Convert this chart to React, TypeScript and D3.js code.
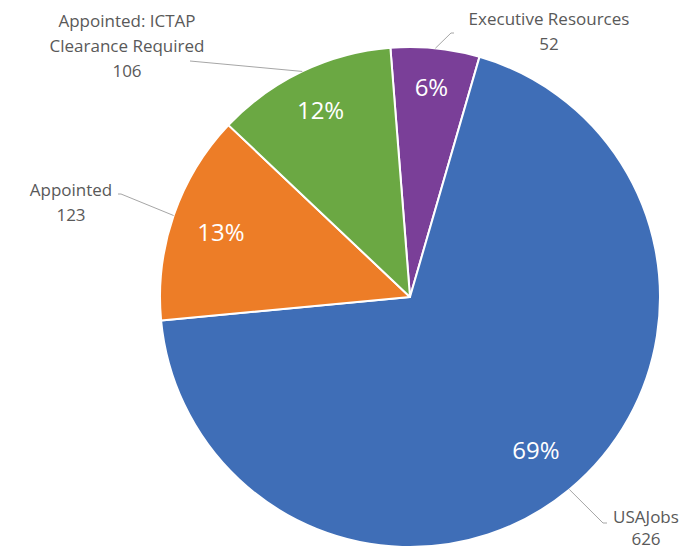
import React from "react";
import * as d3 from "d3";

const categories = ["Executive Resources", "USAJobs", "Appointed", "Appointed: ICTAP Clearance Required"];
const values = [52, 626, 123, 106];
const percentLabels = ["6%", "69%", "13%", "12%"];
const colors = ["#7A3F98", "#3F6EB7", "#ED7D27", "#6BA843"];
const labelLines = [["Executive Resources", "52"], ["USAJobs", "626"], ["Appointed", "123"], ["Appointed: ICTAP", "Clearance Required", "106"]];

const W = 683, H = 550;
const cx = 410, cy = 297, R = 250;
const startDeg = -4.5;

// label layout: text center x, first line center y, line gap, leader points (after arc edge)
const labelLayout = [
  { x: 549, y: 18, gap: 25, leader: [[451, 33], [454, 33]] },
  { x: 646, y: 516, gap: 22, leader: [[603, 523], [607, 523]] },
  { x: 71, y: 189, gap: 25, leader: [[121, 194], [118, 194]] },
  { x: 127, y: 20, gap: 25, leader: [[190, 61]] },
];
const pctRadius = [0.845, 0.79, 0.8, 0.83];

export default function App() {
  const pie = d3.pie<number>().sort(null).value(d => d)
    .startAngle(startDeg * Math.PI / 180)
    .endAngle((startDeg + 360) * Math.PI / 180);
  const arcs = pie(values);
  const arc = d3.arc<d3.PieArcDatum<number>>().innerRadius(0).outerRadius(R);
  const font = "'Open Sans', sans-serif";
  return (
    <svg width={W} height={H} style={{ position: "absolute", left: 0, top: 0, background: "#fff" }}>
      <g transform={`translate(${cx},${cy})`}>
        {arcs.map((a, i) => (
          <path key={i} d={arc(a) || ""} fill={colors[i]} stroke="#fff" strokeWidth={2} strokeLinejoin="round" />
        ))}
        {arcs.map((a, i) => {
          const r = R * pctRadius[i];
          const [x, y] = d3.arc<d3.PieArcDatum<number>>().innerRadius(r).outerRadius(r).centroid(a);
          return (
            <text key={i} x={x} y={y} fill="#fff" fontFamily={font} fontSize={24} textAnchor="middle" dominantBaseline="central">
              {percentLabels[i]}
            </text>
          );
        })}
      </g>
      {arcs.map((a, i) => {
        const mid = (a.startAngle + a.endAngle) / 2;
        const ex = cx + R * Math.sin(mid), ey = cy - R * Math.cos(mid);
        const pts = [[ex, ey], ...labelLayout[i].leader];
        const line = d3.line()(pts as [number, number][]) || "";
        return <path key={i} d={line} fill="none" stroke="#A6A6A6" strokeWidth={1} />;
      })}
      {labelLines.map((lines, i) => (
        <text key={i} fill="#595959" fontFamily={font} fontSize={17} textAnchor="middle">
          {lines.map((l, j) => (
            <tspan key={j} x={labelLayout[i].x} y={labelLayout[i].y + j * labelLayout[i].gap} dominantBaseline="central">{l}</tspan>
          ))}
        </text>
      ))}
    </svg>
  );
}
